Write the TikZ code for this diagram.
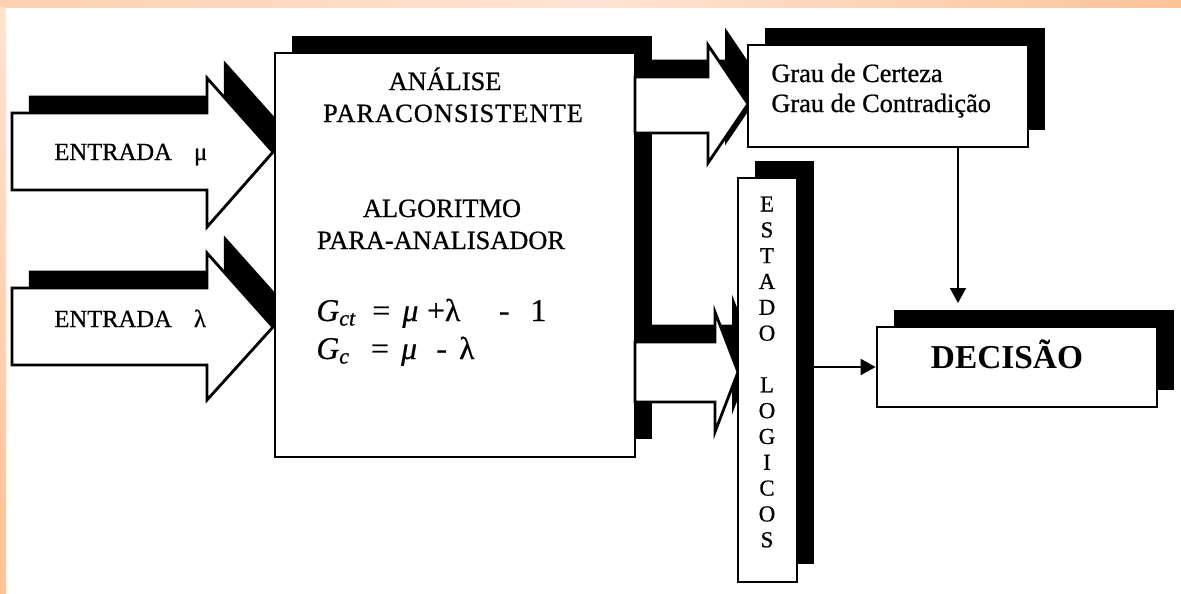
\documentclass[tikz,border=0pt]{standalone}
\usepackage{fontspec}
\setmainfont{Liberation Serif}[UprightFeatures={FakeBold=0.7}, ItalicFeatures={FakeBold=0.7}]
\usetikzlibrary{shadows,arrows.meta}

\definecolor{pessego}{HTML}{FCC397}
\definecolor{pessegoclaro}{HTML}{FEE3D5}

\begin{document}
\begin{tikzpicture}[x=0.02cm, y=0.02cm, line width=1.6pt,
    sombra/.style={drop shadow={shadow xshift=0.34cm, shadow yshift=0.35cm, opacity=1, fill=black}},
    caixa/.style={draw, fill=white, sombra, inner sep=0pt},
    bloco/.style={draw, fill=white, sombra, line join=miter},
    texto/.style={font=\fontsize{15}{18}\selectfont, inner sep=0pt},
    formula/.style={font=\fontsize{18}{20}\selectfont, inner sep=0pt, anchor=base west},
    liga/.style={line width=1.1pt, -{Triangle[length=0.3cm, width=0.32cm]}}]
    % Page: 1181 x 593 px, y downwards as negative

    % Background and peach border
    \useasboundingbox (0,0) rectangle (1181,-593);
    \fill[white] (0,0) rectangle (1181,-593);
    \shade[left color=pessegoclaro!40!pessego, right color=pessego, middle color=pessegoclaro] (0,0) rectangle (1181,-7);
    \shade[top color=pessegoclaro, bottom color=pessego] (0,-7) rectangle (6,-593);

    % Input arrows
    \draw[bloco] (12,-113) -- (207,-113) -- (207,-78) -- (273,-152) -- (207,-227) -- (207,-190) -- (12,-190) -- cycle;
    \draw[bloco] (12,-288) -- (207,-288) -- (207,-253) -- (273,-327) -- (207,-400) -- (207,-365) -- (12,-365) -- cycle;
    \node[texto, font=\fontsize{14}{16}\selectfont, anchor=base west] (tmu) at (53,-160) {ENTRADA\hspace{0.9em}μ};
    \node[texto, font=\fontsize{14}{16}\selectfont, anchor=base west] (tlambda) at (53,-327) {ENTRADA\hspace{0.9em}λ};

    % Main block
    \node[caixa, minimum width=7.2cm, minimum height=8.08cm] (analise) at (455,-255) {};
    \node[texto, anchor=base] (tanalise) at (445,-90) {ANÁLISE};
    \node[texto, anchor=base] (tpara) at (453,-122) {\addfontfeatures{LetterSpace=4}PARACONSISTENTE};
    \node[texto, anchor=base] (talg) at (442,-217) {ALGORITMO};
    \node[texto, anchor=base] (tpa) at (441,-249) {PARA-ANALISADOR};
    \node[formula] (gct) at (315,-321)
        {\textit{G}\textsubscript{\textit{ct}}\hspace{9pt}=\hspace{7pt}\textit{μ}\hspace{5pt}+λ\hspace{22pt}-\hspace{12pt}1};
    \node[formula] (gc) at (315,-359)
        {\textit{G}\textsubscript{\textit{c}}\hspace{12pt}=\hspace{7pt}\textit{μ}\hspace{11pt}-\hspace{7pt}λ};

    % Output arrows
    \draw[bloco] (635,-77) -- (708,-77) -- (708,-45) -- (748,-104) -- (708,-163) -- (708,-133) -- (635,-133) -- cycle;
    \draw[bloco] (635,-342) -- (715,-342) -- (715,-312) -- (738,-372) -- (715,-432) -- (715,-402) -- (635,-402) -- cycle;

    % Result boxes
    \node[caixa, minimum width=5.6cm, minimum height=2.04cm] (grau) at (888,-96) {};
    \node[texto, anchor=base west] (tcerteza) at (770,-82) {Grau de Certeza};
    \node[texto, anchor=base west] (tcontra) at (770,-112) {Grau de Contradição};

    \node[caixa, minimum width=1.18cm, minimum height=8.08cm] (estado) at (767.5,-380) {};
    \node[texto, font=\fontsize{13}{14.7}\selectfont, align=center] (testado) at (767,-372)
        {E\\S\\T\\A\\D\\O\\[14.7pt]L\\O\\G\\I\\C\\O\\S};

    \node[caixa, minimum width=5.6cm, minimum height=1.6cm] (decisao) at (1017,-367) {};
    \node[texto, font=\fontsize{19}{22}\bfseries, anchor=base] (tdecisao) at (1007,-368) {DECISÃO};

    % Connectors
    \coordinate (desce) at (958,-303);
    \draw[liga] (grau.south -| desce) -- (desce);
    \draw[liga] (decisao.west -| estado.east) -- (decisao.west);
\end{tikzpicture}
\end{document}
